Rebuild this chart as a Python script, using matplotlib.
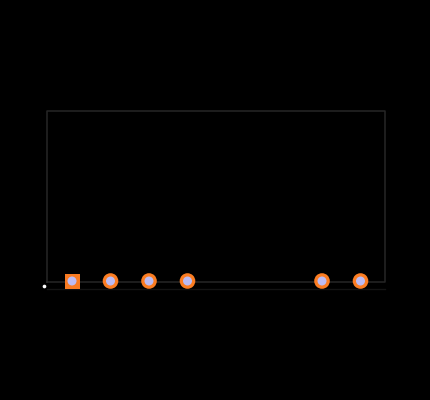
from matplotlib import pyplot as plt
from matplotlib.patches import Circle, Rectangle

# pad centres, in picture pixels
pad_x = [72, 110.5, 149, 187.5, 322, 360.5]
pad_y = [281, 281, 281, 281, 281, 281]
square_pad = [True, False, False, False, False, False]

outline_x = [47, 47, 385, 385, 47]
outline_y = [282, 111, 111, 282, 282]
courtyard_x = [47, 385]
courtyard_y = [289, 289]
origin_x = [43.6]
origin_y = [286]

fig = plt.figure(figsize=(4.3, 4.0), dpi=100, facecolor='black')
ax = fig.add_axes([0, 0, 1, 1])
ax.set_xlim(0, 430)
ax.set_ylim(400, 0)
ax.set_facecolor('black')
ax.axis('off')

ax.plot(courtyard_x, courtyard_y, color='#141414', lw=1, zorder=1)
ax.plot(outline_x, outline_y, color='#262626', lw=1.1, zorder=2)

for x, y, sq in zip(pad_x, pad_y, square_pad):
    if sq:
        ax.add_patch(Rectangle((x - 7.5, y - 7.5), 15, 15, fc='#f97b22', ec='none', zorder=3))
    else:
        ax.add_patch(Circle((x, y), 7.8, fc='#fb7d22', ec='none', zorder=3))
    ax.add_patch(Circle((x, y), 4.5, fc='#bcbcf4', ec='none', zorder=4))

ax.scatter(origin_x, origin_y, s=7, marker='o', color='white', linewidths=0, zorder=5)

fig.savefig('out.png', dpi=100, facecolor='black')
